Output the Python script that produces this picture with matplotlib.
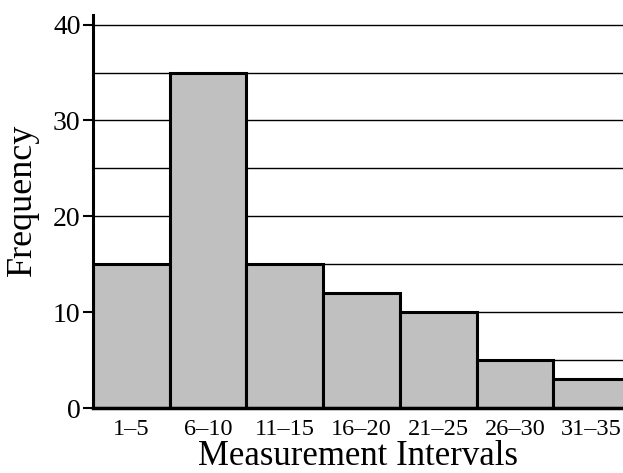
import matplotlib
matplotlib.use("Agg")
import matplotlib.pyplot as plt
import numpy as np

categories = ["1–5", "6–10", "11–15", "16–20", "21–25", "26–30", "31–35"]
frequencies = [15, 35, 15, 12, 10, 5, 3]
y_ticks = [0, 10, 20, 30, 40]
grid_levels = [5, 10, 15, 20, 25, 30, 35, 40]

plt.rcParams['font.family'] = ['Liberation Serif', 'DejaVu Serif']

fig = plt.figure(figsize=(6.23, 4.73), dpi=100)
ax = fig.add_axes([93/623, 65/473, 1 - 93/623, (408-15)/473])

x = np.arange(len(categories))
for g in grid_levels:
    ax.axhline(g, color='black', linewidth=1.0, zorder=1)
ax.bar(x + 0.5, frequencies, width=1.0, color='#c0c0c0', edgecolor='black',
       linewidth=2.2, zorder=2)

ax.set_xlim(0, 530/76.7)
ax.set_ylim(0, 41.0)
ax.set_xticks(x + 0.5)
ax.set_xticklabels(categories, fontsize=17.5)
ax.set_yticks(y_ticks)
ax.set_yticklabels([str(v) for v in y_ticks], fontsize=20)
ax.tick_params(axis='x', length=0, pad=8)
ax.tick_params(axis='y', length=7, width=1.5, direction='out', pad=2)

for s in ['top', 'right']:
    ax.spines[s].set_visible(False)
ax.spines['left'].set_linewidth(2.2)
ax.spines['bottom'].set_linewidth(2.5)
ax.spines['left'].set_zorder(3)
ax.spines['bottom'].set_zorder(3)

ax.set_xlabel("Measurement Intervals", fontsize=25, labelpad=0)
ax.set_ylabel("Frequency", fontsize=26)
ax.yaxis.set_label_coords(-0.102, 0.53)

fig.savefig("out.png", dpi=100)
